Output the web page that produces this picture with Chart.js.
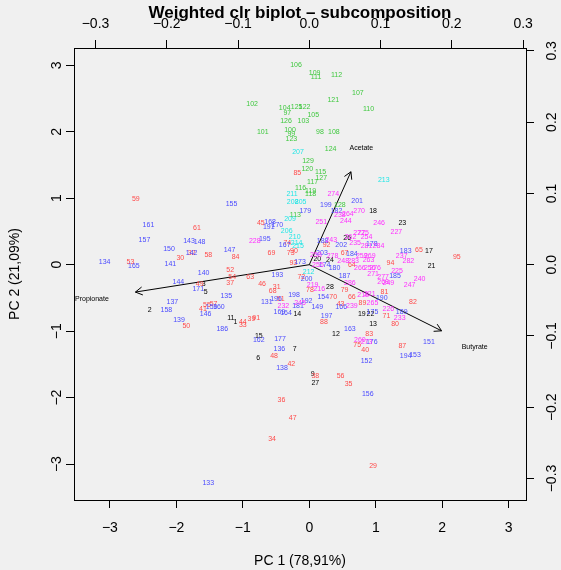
<!DOCTYPE html>
<html>
<head>
<meta charset="utf-8">
<title>Weighted clr biplot</title>
<script src="https://cdn.jsdelivr.net/npm/chart.js@4.4.0/dist/chart.umd.min.js"></script>
<style>
  html, body { margin: 0; padding: 0; background: #f0f0f0; }
  #wrap { width: 561px; height: 570px; }
</style>
</head>
<body>
<div id="wrap"><canvas id="biplot" width="561" height="570"></canvas></div>
<script>
// sample scores [id, PC1, PC2], one list per group
const blackPts = [
  [1,-1.11,-0.87],[2,-2.40,-0.69],[3,-1.59,-0.29],[5,-1.56,-0.41],[6,-0.77,-1.40],[7,-0.22,-1.27],
  [9,0.05,-1.64],[11,-1.18,-0.81],[12,0.40,-1.04],[13,0.96,-0.89],[14,-0.18,-0.74],[15,-0.76,-1.07],
  [17,1.80,0.21],[18,0.96,0.81],[19,0.79,-0.75],[20,0.12,0.08],[21,1.84,-0.02],[22,0.92,-0.75],
  [23,1.40,0.62],[24,0.31,0.07],[26,0.57,0.40],[27,0.09,-1.78],[28,0.31,-0.34]
];
const redPts = [
  [29,0.96,-3.03],[30,-1.94,0.10],[31,-0.49,-0.34],[32,-1.77,0.17],[33,-1.00,-0.91],[34,-0.56,-2.62],
  [35,0.59,-1.79],[36,-0.42,-2.03],[37,-1.19,-0.27],[38,0.09,-1.67],[39,-0.87,-0.82],[40,0.84,-1.28],
  [41,-1.60,-0.67],[42,-0.27,-1.49],[43,0.47,-0.59],[44,-1.00,-0.86],[45,-0.73,0.62],[46,-0.71,-0.29],
  [47,-0.25,-2.30],[48,-0.53,-1.38],[49,-1.65,-0.29],[50,-1.85,-0.93],[51,-0.43,-0.52],[52,-1.19,-0.08],
  [53,-2.69,0.04],[54,-1.16,-0.18],[55,-1.54,-0.61],[56,0.47,-1.67],[57,-1.44,-0.59],[58,-1.52,0.14],
  [59,-2.61,0.99],[61,-1.69,0.55],[63,-0.89,-0.18],[64,0.64,0.00],[65,1.65,0.22],[66,0.64,-0.48],
  [67,0.53,0.17],[68,-0.55,-0.39],[69,-0.57,0.18],[70,0.36,-0.48],[71,1.16,-0.78],[72,-0.12,-0.18],
  [73,-0.28,0.17],[74,-0.33,0.33],[75,0.72,-1.21],[78,0.01,-0.38],[79,0.53,-0.38],[80,1.29,-0.90],
  [81,1.13,-0.41],[82,1.56,-0.56],[83,0.90,-1.05],[84,-1.11,0.12],[85,-0.18,1.38],[87,1.40,-1.23],
  [88,0.22,-0.87],[89,0.80,-0.58],[90,-0.23,0.21],[91,-0.80,-0.81],[92,0.26,0.29],[93,-0.24,0.03],
  [94,1.22,0.02],[95,2.22,0.11]
];
const greenPts = [
  [97,-0.33,2.28],[98,0.16,1.99],[99,-0.27,1.97],[100,-0.29,2.02],[101,-0.70,2.00],[102,-0.86,2.42],
  [103,-0.09,2.16],[104,-0.37,2.36],[105,0.06,2.25],[106,-0.20,3.00],[107,0.73,2.58],[108,0.37,2.00],
  [109,0.08,2.88],[110,0.89,2.34],[111,0.10,2.82],[112,0.41,2.85],[113,-0.21,0.75],[115,0.17,1.39],
  [116,-0.13,1.15],[117,0.05,1.25],[118,0.02,1.07],[119,0.02,1.11],[120,-0.03,1.44],[121,0.36,2.47],
  [122,-0.07,2.37],[123,-0.27,1.89],[124,0.32,1.74],[125,-0.19,2.37],[126,-0.35,2.16],[127,0.18,1.31],
  [128,0.46,0.90],[129,-0.02,1.56]
];
const bluePts = [
  [131,-0.64,-0.56],[133,-1.52,-3.29],[134,-3.08,0.04],[135,-1.25,-0.47],[136,-0.45,-1.27],[137,-2.06,-0.56],
  [138,-0.41,-1.56],[139,-1.96,-0.84],[140,-1.59,-0.13],[141,-2.09,0.01],[142,-1.77,0.18],[143,-1.81,0.35],
  [144,-1.97,-0.26],[146,-1.56,-0.74],[147,-1.20,0.22],[148,-1.65,0.34],[149,0.12,-0.63],[150,-2.11,0.24],
  [151,1.80,-1.16],[152,0.86,-1.45],[153,1.59,-1.36],[154,0.21,-0.49],[155,-1.17,0.91],[156,0.88,-1.95],
  [157,-2.48,0.37],[158,-2.15,-0.69],[159,-1.47,-0.64],[160,-1.36,-0.64],[161,-2.42,0.59],[162,-0.76,-1.13],
  [163,0.61,-0.97],[164,-0.35,-0.73],[165,-2.64,-0.02],[166,0.48,-0.64],[167,-0.37,0.29],[168,-0.59,0.64],
  [169,-0.45,-0.71],[170,-0.48,0.60],[171,-1.67,-0.36],[173,-0.14,0.04],[174,0.23,0.00],[175,0.95,-0.71],
  [176,0.94,-1.16],[177,-0.44,-1.12],[178,0.94,0.31],[179,-0.06,0.81],[180,0.38,-0.05],[181,-0.17,-0.62],
  [182,0.41,0.81],[183,1.45,0.20],[184,0.64,0.16],[185,1.29,-0.17],[186,-1.31,-0.97],[187,0.53,-0.17],
  [188,0.20,0.36],[189,1.39,-0.72],[190,1.09,-0.50],[191,-0.61,0.56],[192,-0.04,-0.54],[193,-0.48,-0.16],
  [194,1.45,-1.37],[195,-0.67,0.38],[196,-0.50,-0.51],[197,0.26,-0.77],[198,-0.23,-0.45],[199,0.25,0.89],
  [200,-0.04,-0.22],[201,0.72,0.95],[202,0.48,0.29],[203,0.19,0.18]
];
const cyanPts = [
  [205,-0.13,0.94],[206,-0.34,0.50],[207,-0.17,1.69],[208,-0.25,0.94],[209,-0.29,0.68],[210,-0.22,0.42],
  [211,-0.26,1.06],[212,-0.01,-0.11],[213,1.12,1.28],[214,-0.19,0.33],[215,-0.17,0.28]
];
const magentaPts = [
  [216,0.15,-0.36],[218,0.81,-0.46],[219,0.05,-0.31],[221,0.91,-0.44],[225,1.32,-0.09],[226,1.19,-0.66],
  [227,1.31,0.49],[228,-0.82,0.35],[232,-0.39,-0.62],[233,1.36,-0.80],[235,0.69,0.32],[237,1.39,0.13],
  [238,0.46,0.75],[239,0.64,-0.62],[240,1.66,-0.22],[243,0.33,0.37],[244,0.55,0.65],[245,-0.14,-0.58],
  [246,1.05,0.62],[247,1.51,-0.31],[248,0.51,0.06],[249,1.19,-0.28],[251,0.18,0.64],[254,0.86,0.41],
  [255,0.13,-0.01],[256,0.91,-0.05],[258,0.10,0.15],[259,0.79,0.13],[260,0.76,-1.13],[262,0.62,0.41],
  [263,0.89,0.07],[264,0.58,0.76],[265,0.95,-0.58],[266,0.76,-0.05],[268,1.11,-0.26],[269,0.91,0.13],
  [270,0.75,0.80],[271,0.96,-0.14],[272,0.75,0.47],[273,0.86,-1.16],[274,0.36,1.06],[275,0.81,0.48],
  [276,0.99,-0.05],[277,1.11,-0.18],[278,0.35,0.13],[281,0.86,0.28],[282,1.49,0.06],[283,0.66,0.06],
  [284,1.04,0.28],[286,0.61,-0.27]
];

// variable loadings (top / right axes)
const varNames = ["Acetate", "Propionate", "Butyrate"];
const loadX = [0.073, -0.305, 0.232];
const loadY = [0.163, -0.048, -0.116];

const pcTicks = [-3, -2, -1, 0, 1, 2, 3];
const loadTicks = [-0.3, -0.2, -0.1, 0, 0.1, 0.2, 0.3];

const pcMin = -3.54, pcMax = 3.26;
const ratio = 0.09326;   // loading units per score unit
const arrowShrink = 0.8;

const FONT = "'Liberation Sans', Arial, Helvetica, sans-serif";

const groups = [
  { pts: blackPts, color: "#000000" },
  { pts: redPts, color: "#ff4a4a" },
  { pts: greenPts, color: "#3fc83f" },
  { pts: bluePts, color: "#4a4aff" },
  { pts: cyanPts, color: "#22e6e6" },
  { pts: magentaPts, color: "#ff30ff" }
];

const datasets = groups.map(g => ({
  data: g.pts.map(p => ({ x: p[1], y: p[2], id: String(p[0]) })),
  pointRadius: 0,
  pointHoverRadius: 0,
  labelColor: g.color,
  xAxisID: "x",
  yAxisID: "y"
}));

varNames.forEach((name, i) => {
  datasets.push({
    data: [{ x: 0, y: 0 }, { x: loadX[i] * arrowShrink, y: loadY[i] * arrowShrink }],
    showLine: true,
    borderColor: "#000",
    borderWidth: 1,
    pointRadius: 0,
    pointHoverRadius: 0,
    isArrow: true,
    varIndex: i,
    xAxisID: "x2",
    yAxisID: "y2"
  });
});

const fmtPc = v => (v < 0 ? "\u2212" : "") + Math.abs(v);
const fmtLoad = v => (v < -1e-9 ? "\u2212" : "") + Math.abs(v).toFixed(1);

const gridOpts = { drawOnChartArea: false, drawTicks: true, tickLength: 8, tickColor: "#000", color: "#000", lineWidth: 1 };
const borderOpts = { display: true, color: "#000", width: 1 };

const biplotText = {
  id: "biplotText",
  afterDatasetsDraw(chart) {
    const ctx = chart.ctx;
    const s = chart.scales;
    ctx.save();
    ctx.textAlign = "center";
    ctx.textBaseline = "middle";
    ctx.font = "7px " + FONT;
    chart.data.datasets.forEach((ds, di) => {
      const meta = chart.getDatasetMeta(di);
      if (ds.isArrow) {
        const a = meta.data[0], b = meta.data[1];
        const ang = Math.atan2(b.y - a.y, b.x - a.x);
        const len = 8, spread = Math.PI / 6;
        ctx.strokeStyle = "#000";
        ctx.lineWidth = 1;
        ctx.beginPath();
        ctx.moveTo(b.x - len * Math.cos(ang - spread), b.y - len * Math.sin(ang - spread));
        ctx.lineTo(b.x, b.y);
        ctx.lineTo(b.x - len * Math.cos(ang + spread), b.y - len * Math.sin(ang + spread));
        ctx.stroke();
        ctx.fillStyle = "#000";
        const i = ds.varIndex;
        ctx.fillText(varNames[i], s.x2.getPixelForValue(loadX[i]), s.y2.getPixelForValue(loadY[i]));
      } else {
        ctx.fillStyle = ds.labelColor;
        meta.data.forEach((el, i) => ctx.fillText(ds.data[i].id, el.x, el.y));
      }
    });
    ctx.restore();
  },
  afterDraw(chart) {
    const ctx = chart.ctx;
    const s = chart.scales;
    const area = chart.chartArea;
    ctx.save();
    ctx.fillStyle = "#000";
    ctx.textAlign = "center";
    ctx.textBaseline = "middle";
    ctx.font = "14px " + FONT;
    pcTicks.forEach(v => ctx.fillText(fmtPc(v), s.x.getPixelForValue(v), 528));
    loadTicks.forEach(v => ctx.fillText(fmtLoad(v), s.x2.getPixelForValue(v), 24));
    pcTicks.forEach(v => {
      ctx.save();
      ctx.translate(57, s.y.getPixelForValue(v));
      ctx.rotate(-Math.PI / 2);
      ctx.fillText(fmtPc(v), 0, 0);
      ctx.restore();
    });
    loadTicks.forEach(v => {
      ctx.save();
      ctx.translate(552, s.y2.getPixelForValue(v));
      ctx.rotate(-Math.PI / 2);
      ctx.fillText(fmtLoad(v), 0, 0);
      ctx.restore();
    });
    const cx = (area.left + area.right) / 2;
    const cy = (area.top + area.bottom) / 2;
    ctx.fillText("PC 1 (78,91%)", cx, 561);
    ctx.save();
    ctx.translate(15, cy);
    ctx.rotate(-Math.PI / 2);
    ctx.fillText("PC 2 (21,09%)", 0, 0);
    ctx.restore();
    ctx.font = "bold 17px " + FONT;
    ctx.textBaseline = "alphabetic";
    ctx.fillText("Weighted clr biplot \u2013 subcomposition", cx, 18);
    ctx.restore();
  }
};

new Chart(document.getElementById("biplot"), {
  type: "scatter",
  data: { datasets },
  options: {
    responsive: false,
    animation: false,
    devicePixelRatio: 1,
    events: [],
    layout: { padding: 0 },
    plugins: { legend: { display: false }, tooltip: { enabled: false }, title: { display: false } },
    scales: {
      x: {
        type: "linear", position: "bottom", min: pcMin, max: pcMax,
        afterBuildTicks: sc => { sc.ticks = pcTicks.map(v => ({ value: v })); },
        afterFit: sc => { sc.height = 70; },
        ticks: { display: false }, grid: gridOpts, border: borderOpts
      },
      y: {
        type: "linear", position: "left", min: pcMin, max: pcMax,
        afterBuildTicks: sc => { sc.ticks = pcTicks.map(v => ({ value: v })); },
        afterFit: sc => { sc.width = 74; },
        ticks: { display: false }, grid: gridOpts, border: borderOpts
      },
      x2: {
        type: "linear", position: "top", min: pcMin * ratio, max: pcMax * ratio,
        afterBuildTicks: sc => { sc.ticks = loadTicks.map(v => ({ value: v })); },
        afterFit: sc => { sc.height = 48; },
        ticks: { display: false }, grid: gridOpts, border: borderOpts
      },
      y2: {
        type: "linear", position: "right", min: pcMin * ratio, max: pcMax * ratio,
        afterBuildTicks: sc => { sc.ticks = loadTicks.map(v => ({ value: v })); },
        afterFit: sc => { sc.width = 35; },
        ticks: { display: false }, grid: gridOpts, border: borderOpts
      }
    }
  },
  plugins: [biplotText]
});
</script>
</body>
</html>
